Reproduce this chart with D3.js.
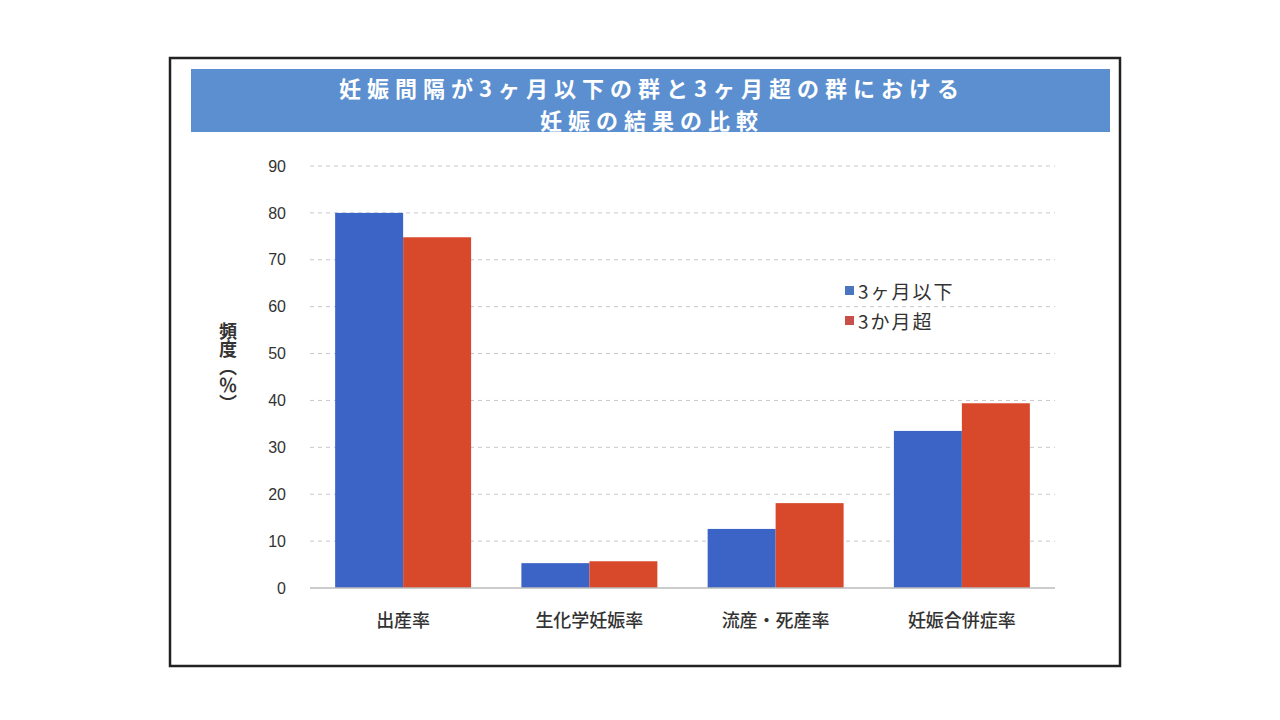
<!DOCTYPE html>
<html>
<head>
<meta charset="utf-8">
<script src="https://cdn.jsdelivr.net/npm/d3@7"></script>
<style>
  body { margin: 0; background: #fff; }
  svg { display: block; font-family: "Noto Sans CJK JP", sans-serif; }
</style>
</head>
<body>
<svg id="canvas" width="1280" height="720"></svg>
<script>
var categories = ['出産率', '生化学妊娠率', '流産・死産率', '妊娠合併症率'];
var seriesNames = ['3ヶ月以下', '3か月超'];
var under3 = [80, 5.3, 12.6, 33.5];
var over3 = [74.8, 5.7, 18.1, 39.4];
var yTicks = [0, 10, 20, 30, 40, 50, 60, 70, 80, 90];
var colors = ['#3b64c6', '#d8482b'];
var legendColors = ['#4a76c0', '#c9504a'];

var svg = d3.select('#canvas');

// outer frame
svg.append('rect')
    .attr('x', 170).attr('y', 58)
    .attr('width', 950).attr('height', 608)
    .attr('fill', '#fff')
    .attr('stroke', '#222')
    .attr('stroke-width', 2.5);

// title band
svg.append('rect')
    .attr('x', 191).attr('y', 69)
    .attr('width', 919).attr('height', 63)
    .attr('fill', '#5b8fd0');

svg.selectAll('text.title')
    .data(['妊娠間隔が3ヶ月以下の群と3ヶ月超の群における', '妊娠の結果の比較'])
    .enter()
    .append('text')
    .attr('class', 'title')
    .attr('x', 652)
    .attr('y', function(d, i) { return 97 + i * 32; })
    .attr('text-anchor', 'middle')
    .attr('fill', '#fff')
    .attr('font-size', 22)
    .attr('font-weight', 'bold')
    .attr('letter-spacing', 6)
    .text(function(d) { return d; });

var x = d3.scaleBand()
    .domain(categories)
    .range([310, 1055])
    .paddingInner(0.27)
    .paddingOuter(0.135);

var xs = d3.scaleBand()
    .domain(seriesNames)
    .range([0, x.bandwidth()]);

var y = d3.scaleLinear()
    .domain([0, 90])
    .range([588, 166]);

// gridlines
svg.append('g')
    .selectAll('line')
    .data(yTicks.slice(1))
    .enter()
    .append('line')
    .attr('x1', 310).attr('x2', 1055)
    .attr('y1', function(d) { return y(d); })
    .attr('y2', function(d) { return y(d); })
    .attr('stroke', '#c8c8c8')
    .attr('stroke-width', 1)
    .attr('stroke-dasharray', '4,4');

// y axis labels
var yAxis = d3.axisLeft(y)
    .tickValues(yTicks)
    .tickSize(0)
    .tickPadding(0);

var gy = svg.append('g')
    .attr('transform', 'translate(286,0)')
    .call(yAxis);
gy.select('.domain').remove();
gy.selectAll('text')
    .attr('font-size', 16)
    .attr('fill', '#333')
    .attr('font-family', 'Liberation Sans, Arial, sans-serif');

// bars
var rows = categories.map(function(c, i) {
    return { cat: c, vals: [under3[i], over3[i]] };
});

var groups = svg.append('g')
    .selectAll('g')
    .data(rows)
    .enter()
    .append('g')
    .attr('transform', function(d) { return 'translate(' + x(d.cat) + ',0)'; });

groups.selectAll('rect')
    .data(function(d) {
        return d.vals.map(function(v, j) { return { name: seriesNames[j], v: v, j: j }; });
    })
    .enter()
    .append('rect')
    .attr('x', function(d) { return xs(d.name); })
    .attr('width', xs.bandwidth())
    .attr('y', function(d) { return y(d.v); })
    .attr('height', function(d) { return y(0) - y(d.v); })
    .attr('fill', function(d) { return colors[d.j]; });

// baseline
svg.append('line')
    .attr('x1', 310).attr('x2', 1055)
    .attr('y1', y(0)).attr('y2', y(0))
    .attr('stroke', '#bbb')
    .attr('stroke-width', 1.5);

// x axis labels
var xAxis = d3.axisBottom(x).tickSize(0).tickPadding(0);
var gx = svg.append('g')
    .attr('transform', 'translate(0,' + 627 + ')')
    .call(xAxis);
gx.select('.domain').remove();
gx.selectAll('text')
    .attr('dy', 0)
    .attr('font-size', 18)
    .attr('font-weight', 500)
    .attr('fill', '#333')
    .attr('font-family', 'Noto Sans CJK JP, sans-serif');

// y axis title, vertical
svg.append('text')
    .attr('x', 228)
    .attr('y', 322)
    .attr('font-size', 18)
    .attr('font-weight', 'bold')
    .attr('fill', '#333')
    .style('writing-mode', 'vertical-rl')
    .text('頻度（％）');

// legend
var legend = svg.append('g')
    .selectAll('g')
    .data(seriesNames)
    .enter()
    .append('g')
    .attr('transform', function(d, i) { return 'translate(845,' + (292 + i * 30) + ')'; });

legend.append('rect')
    .attr('x', 0).attr('y', -6)
    .attr('width', 9).attr('height', 9)
    .attr('fill', function(d, i) { return legendColors[i]; });

legend.append('text')
    .attr('x', 13)
    .attr('y', 0)
    .attr('dy', '0.35em')
    .attr('font-size', 19)
    .attr('letter-spacing', 2)
    .attr('fill', '#333')
    .text(function(d) { return d; });
</script>
</body>
</html>
